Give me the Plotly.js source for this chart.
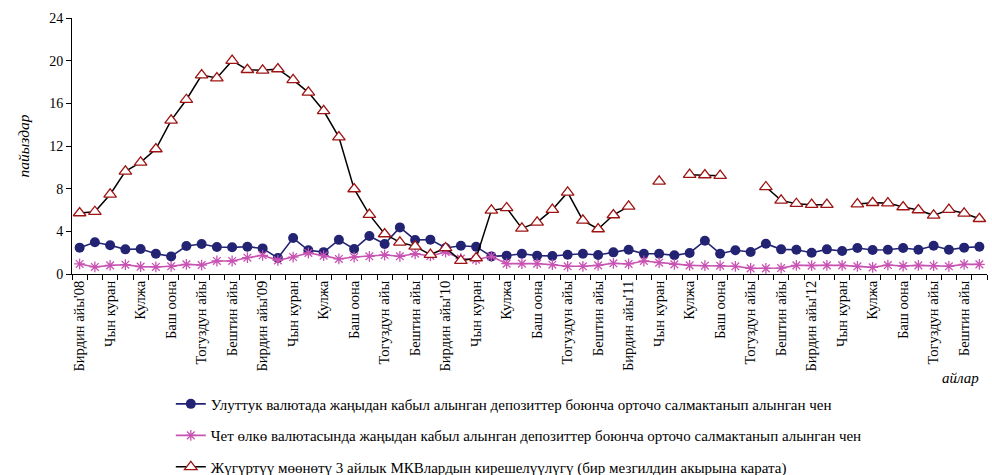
<!DOCTYPE html>
<html>
<head>
<meta charset="utf-8">
<script src="https://cdn.plot.ly/plotly-3.0.1.min.js"></script>
<style>
html,body{margin:0;padding:0;background:#fff;}
#chart{width:992px;height:475px;}
</style>
</head>
<body>
<div id="chart"></div>
<script>
// Months Jan 2008 .. Dec 2012 (60 months); labels every second month
const tickLabels = [
  "Бирдин айы'08", "Чын куран", "Кулжа", "Баш оона", "Тогуздун айы", "Бештин айы",
  "Бирдин айы'09", "Чын куран", "Кулжа", "Баш оона", "Тогуздун айы", "Бештин айы",
  "Бирдин айы'10", "Чын куран", "Кулжа", "Баш оона", "Тогуздун айы", "Бештин айы",
  "Бирдин айы'11", "Чын куран", "Кулжа", "Баш оона", "Тогуздун айы", "Бештин айы",
  "Бирдин айы'12", "Чын куран", "Кулжа", "Баш оона", "Тогуздун айы", "Бештин айы"
];

const nationalRate = [
  2.47, 2.97, 2.69, 2.31, 2.34, 1.90, 1.65, 2.62, 2.81, 2.53, 2.50, 2.56,
  2.40, 1.50, 3.37, 2.22, 2.05, 3.20, 2.34, 3.56, 2.81, 4.37, 3.19, 3.22,
  2.44, 2.65, 2.56, 1.65, 1.72, 1.90, 1.72, 1.69, 1.81, 1.90, 1.78, 2.03,
  2.28, 1.90, 1.90, 1.75, 1.97, 3.12, 1.90, 2.22, 2.06, 2.84, 2.31, 2.28,
  2.00, 2.31, 2.16, 2.44, 2.25, 2.28, 2.44, 2.28, 2.65, 2.28, 2.47, 2.56
];

const foreignRate = [
  0.94, 0.66, 0.81, 0.87, 0.69, 0.66, 0.72, 0.90, 0.84, 1.22, 1.22, 1.53,
  1.75, 1.28, 1.59, 1.97, 1.72, 1.41, 1.59, 1.66, 1.78, 1.66, 1.90, 1.69,
  2.06, 1.44, 1.34, 1.66, 0.97, 0.97, 0.97, 0.87, 0.72, 0.72, 0.81, 1.00,
  0.94, 1.22, 1.06, 0.90, 0.81, 0.78, 0.78, 0.72, 0.53, 0.53, 0.56, 0.81,
  0.78, 0.81, 0.81, 0.72, 0.62, 0.84, 0.75, 0.81, 0.78, 0.72, 0.90, 0.90
];

const tbillYield = [
  5.72, 5.84, 7.46, 9.62, 10.46, 11.72, 14.40, 16.34, 18.65, 18.37, 20.00, 19.15,
  19.09, 19.22, 18.20, 17.03, 15.30, 12.84, 7.97, 5.56, 3.75, 2.97, 2.59, 1.81,
  2.44, 1.25, 1.50, 5.97, 6.19, 4.28, 4.84, 6.03, 7.65, 5.03, 4.22, 5.53,
  6.34, null, 8.68, null, 9.31, 9.28, 9.22, null, null, 8.16, 6.90, 6.59,
  6.50, 6.50, null, 6.56, 6.68, 6.65, 6.28, 6.00, 5.50, 6.03, 5.69, 5.18
];

const seriesNames = [
  "Улуттук валютада жаңыдан кабыл алынган депозиттер боюнча орточо салмактанып алынган чен",
  "Чет өлкө валютасында жаңыдан кабыл алынган депозиттер боюнча орточо салмактанып алынган чен",
  "Жүгүртүү мөөнөтү 3 айлык МКВлардын кирешелүүлүгү (бир мезгилдин акырына карата)"
];

const idx = nationalRate.map((_, i) => i);
const labelPos = tickLabels.map((_, i) => i * 2);
const boundaries = [];
for (let i = 0; i <= idx.length; i++) boundaries.push(i - 0.5);

const serif = "Liberation Serif, Times New Roman, serif";

const traces = [
  {
    x: idx, y: nationalRate, name: seriesNames[0], type: "scatter", mode: "lines+markers",
    line: {color: "#232373", width: 1.6},
    marker: {symbol: "circle", size: 10, color: "#232373"},
    legendgroup: "a"
  },
  {
    x: idx, y: foreignRate, name: seriesNames[1], type: "scatter", mode: "lines+markers",
    line: {color: "#C853B3", width: 1.6},
    marker: {symbol: "asterisk-open", size: 9, line: {color: "#C853B3", width: 1.3}},
    legendgroup: "b"
  },
  {
    x: idx, y: tbillYield, name: seriesNames[2], type: "scatter", mode: "lines+markers",
    connectgaps: false,
    line: {color: "#000000", width: 1.5},
    marker: {symbol: "triangle-up", size: 11, color: "#ffffff", line: {color: "#9E1414", width: 1.3}},
    legendgroup: "c"
  }
];

const layout = {
  width: 992, height: 475,
  paper_bgcolor: "#ffffff", plot_bgcolor: "#ffffff",
  margin: {l: 72, r: 5, t: 18, b: 201, autoexpand: false},
  showlegend: true,
  font: {family: serif, color: "#000", size: 14},
  xaxis: {
    range: [-0.5, idx.length - 0.5],
    tickmode: "array", tickvals: labelPos, ticktext: tickLabels,
    tickangle: -90, ticks: "", ticklen: 0,
    tickfont: {family: serif, size: 14.5, color: "#000"},
    showline: true, linecolor: "#000", linewidth: 1,
    showgrid: false, zeroline: false, automargin: false,
    minor: {tickmode: "array", tickvals: boundaries, ticks: "outside", ticklen: 5, tickcolor: "#000", tickwidth: 1, showgrid: false}
  },
  yaxis: {
    range: [0, 24], tickmode: "array", tickvals: [0, 4, 8, 12, 16, 20, 24],
    ticks: "outside", ticklen: 5, tickcolor: "#000",
    tickfont: {family: serif, size: 14, color: "#000"},
    showline: true, linecolor: "#000", linewidth: 1,
    showgrid: false, zeroline: false, automargin: false,
    title: {text: "пайыздар", font: {family: serif, size: 15.5, style: "italic"}, standoff: 15}
  },
  legend: {
    x: 0.108, xref: "paper", y: 0.184, yref: "container", xanchor: "left", yanchor: "top",
    orientation: "v", traceorder: "grouped", tracegroupgap: 9,
    itemwidth: 30,
    font: {family: serif, size: 15, color: "#000"},
    bgcolor: "rgba(0,0,0,0)"
  },
  annotations: [
    {text: "айлар", xref: "paper", yref: "paper", x: 0.9705, y: -0.405, xanchor: "center", yanchor: "middle",
     showarrow: false, font: {family: serif, size: 15, style: "italic", color: "#000"}}
  ]
};

Plotly.newPlot("chart", traces, layout, {displayModeBar: false, staticPlot: true});
</script>
</body>
</html>
